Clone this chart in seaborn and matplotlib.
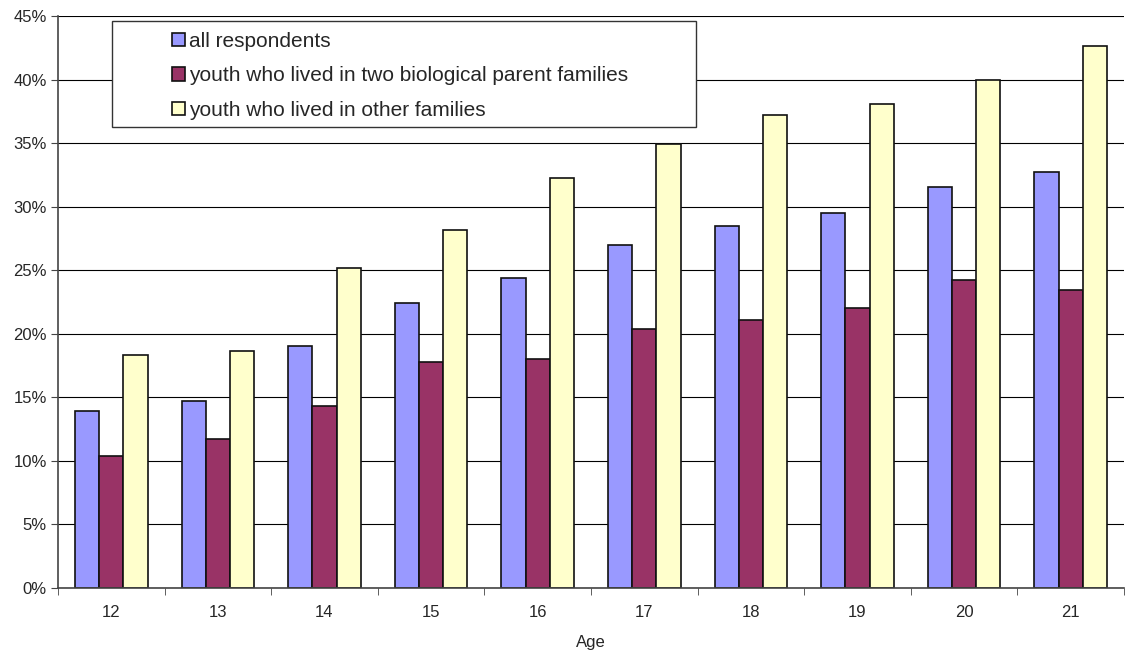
import numpy as np
import pandas as pd
import seaborn as sns
import matplotlib.pyplot as plt
from matplotlib.patches import Rectangle
from matplotlib.ticker import FuncFormatter

# data (percent)
ages = ["12", "13", "14", "15", "16", "17", "18", "19", "20", "21"]
series = ["all respondents",
          "youth who lived in two biological parent families",
          "youth who lived in other families"]
all_resp = [13.9, 14.7, 19.05, 22.45, 24.4, 26.95, 28.5, 29.5, 31.55, 32.75]
two_bio = [10.35, 11.7, 14.35, 17.75, 18.0, 20.4, 21.1, 22.05, 24.2, 23.45]
other_fam = [18.35, 18.65, 25.15, 28.2, 32.25, 34.9, 37.25, 38.1, 39.95, 42.65]
colors = ["#9999FF", "#993366", "#FFFFCC"]

df = pd.DataFrame({
    "Age": ages * 3,
    "value": all_resp + two_bio + other_fam,
    "group": [series[0]] * 10 + [series[1]] * 10 + [series[2]] * 10,
})

sns.set_style("white")
plt.rcParams["font.family"] = ["Liberation Sans", "DejaVu Sans"]

fig = plt.figure(figsize=(11.28, 6.52), dpi=100)
ax = fig.add_axes([58 / 1128, 64 / 652, 1066 / 1128, 572 / 652])

sns.barplot(data=df, x="Age", y="value", hue="group", palette=colors,
            width=0.68, edgecolor="#111111", linewidth=1.2, saturation=1,
            legend=True, ax=ax)

ax.set_ylim(0, 45)
ax.set_xlim(-0.5, 9.5)
ax.set_yticks(np.arange(0, 46, 5))
ax.yaxis.set_major_formatter(FuncFormatter(lambda v, p: "{:d}%".format(int(round(v)))))
ax.grid(axis="y", color="black", linewidth=0.8)
ax.set_axisbelow(True)

for s in ["top", "right"]:
    ax.spines[s].set_visible(False)
ax.spines["left"].set_color("#444444")
ax.spines["bottom"].set_color("#444444")
ax.spines["left"].set_linewidth(1.2)
ax.spines["bottom"].set_linewidth(1.2)

ax.tick_params(axis="y", which="major", length=5, direction="out", left=True,
               labelsize=12, pad=3, color="#444444")
ax.tick_params(axis="x", which="major", length=0, labelsize=12, pad=12)
ax.set_xticks(np.arange(-0.5, 10, 1), minor=True)
ax.tick_params(axis="x", which="minor", length=5, direction="out", bottom=True,
               color="#444444")

ax.set_xlabel("Age", fontsize=12, labelpad=11)
ax.set_ylabel("")

# legend with its own frame
handles, labels = ax.get_legend_handles_labels()
ax.legend(handles, labels, loc="upper left",
          bbox_to_anchor=((172 - 58) / 1066, (588 - 32) / 572),
          frameon=False, fontsize=15, handlelength=0.63, handleheight=0.63,
          handletextpad=0.2, labelspacing=0.74, borderaxespad=0, borderpad=0)
frame = Rectangle(((112 - 58) / 1066, (588 - 127) / 572), 584 / 1066, 106 / 572,
                  transform=ax.transAxes, facecolor="white", edgecolor="#333333",
                  linewidth=1.0, zorder=3)
ax.add_patch(frame)
ax.get_legend().set_zorder(4)

fig.savefig("out.png", dpi=100)
